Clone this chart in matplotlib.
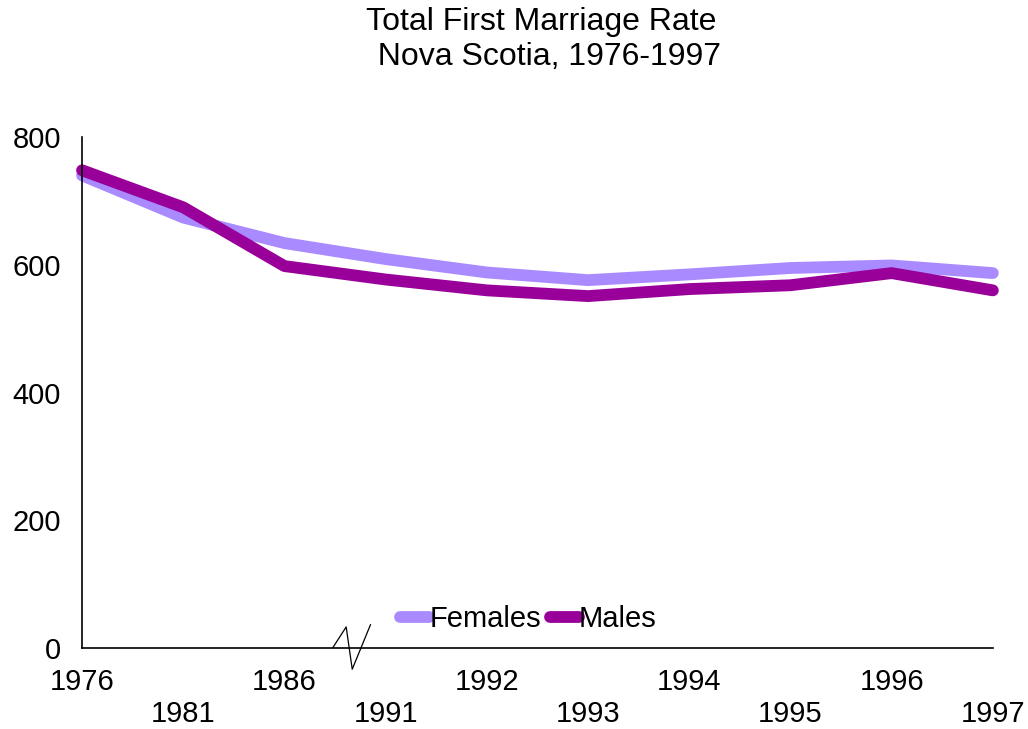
import matplotlib
matplotlib.use("Agg")
import matplotlib.pyplot as plt
import matplotlib.transforms as mtransforms

plt.rcParams['font.family'] = ['Liberation Sans', 'DejaVu Sans']

# ------------ data ------------
years = ["1976", "1981", "1986", "1991", "1992", "1993", "1994", "1995", "1996", "1997"]
females = [740, 674, 634, 609, 588, 576, 585, 595, 599, 587]
males = [748, 690, 598, 577, 560, 551, 562, 568, 587, 560]

x = list(range(len(years)))

fig = plt.figure(figsize=(10.28, 7.29), dpi=100)
ax = fig.add_axes([0.0798, 0.111, 0.886, 0.701])

ax.plot(x, females, color="#A98BFF", lw=8.5, solid_capstyle="round",
        solid_joinstyle="round", clip_on=False, label="Females")
ax.plot(x, males, color="#990099", lw=8.5, solid_capstyle="round",
        solid_joinstyle="round", clip_on=False, label="Males")

ax.set_xlim(0, 9)
ax.set_ylim(0, 800)
ax.set_yticks([0, 200, 400, 600, 800])

# staggered year labels: every second one drops to a second row
labels = [y if i % 2 == 0 else "\n" + y for i, y in enumerate(years)]
ax.set_xticks(x)
ax.set_xticklabels(labels, fontsize=21, linespacing=1.2)
ax.tick_params(axis="y", labelsize=21, length=0, pad=15)
ax.tick_params(axis="x", length=0, pad=14)

for s in ["top", "right"]:
    ax.spines[s].set_visible(False)
ax.spines["left"].set_linewidth(1.2)
ax.spines["bottom"].set_linewidth(1.2)

# axis break mark between 1986 and 1991
trans = mtransforms.blended_transform_factory(ax.transData, fig.transFigure)
bx = [2.48, 2.61, 2.67, 2.85]
by = [0.112, 0.140, 0.082, 0.143]
ax.plot(bx, by, color="black", lw=0.9, transform=trans, clip_on=False)

leg = ax.legend(loc="lower center", bbox_to_anchor=(0.49, 0.0), ncol=2,
                frameon=False, fontsize=21, handlelength=1.0,
                handletextpad=0.0, columnspacing=0.3, borderaxespad=0.1)

fig.text(0.526, 0.99, "Total First Marriage Rate\n  Nova Scotia, 1976-1997",
         ha="center", va="top", fontsize=23, linespacing=1.2)

fig.savefig("out.png", dpi=100)
